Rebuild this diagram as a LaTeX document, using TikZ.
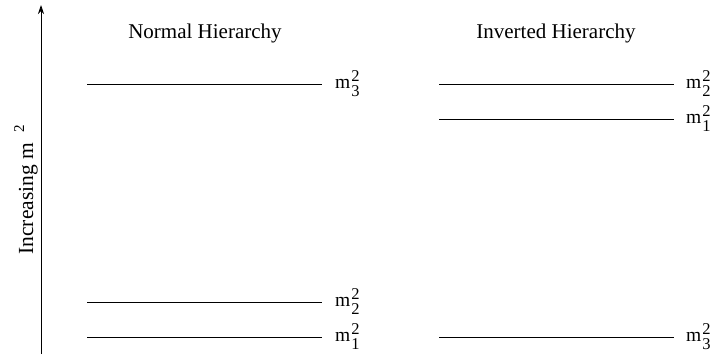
\documentclass[tikz,border=0pt]{standalone}
\usepackage{fontspec}
\setmainfont{Liberation Serif}
\usetikzlibrary{arrows.meta}
\newcommand{\scr}[1]{{\fontsize{16.5}{17}\selectfont #1}}
\newcommand{\mlab}[1]{m\hspace{1pt}\makebox[0pt][l]{\raisebox{7.5pt}{\scr{2}}}\raisebox{-8pt}{\scr{#1}}}
\tikzset{
  level/.style={line width=0.8pt},
  mass/.style={anchor=base west, inner sep=0pt, font=\fontsize{19.5}{20}\selectfont},
  title/.style={inner sep=0pt, font=\fontsize{21}{22}\selectfont},
}
\begin{document}
\begin{tikzpicture}[x=1pt,y=-1pt]
\useasboundingbox (0,0) rectangle (715,354);
% axis
\coordinate (ab) at (41,354);
\coordinate (at) at (41,5);
\draw[line width=0.8pt, -{Stealth[length=9pt,width=6pt,inset=3pt]}] (ab) -- (at);
\node[title, rotate=90, font=\fontsize{21.5}{22}\selectfont] (ylab) at (26,190) {Increasing m\hspace{10pt}\raisebox{9pt}{\fontsize{15}{15}\selectfont 2}};
% titles
\node[title] (tn) at (205,33) {Normal Hierarchy};
\node[title] (ti) at (556,33) {Inverted Hierarchy};
% normal hierarchy
\coordinate (n3a) at (87,84);  \coordinate (n3b) at (322,84);
\coordinate (n2a) at (87,302); \coordinate (n2b) at (322,302);
\coordinate (n1a) at (87,337); \coordinate (n1b) at (322,337);
\draw[level] (n3a) -- (n3b);
\draw[level] (n2a) -- (n2b);
\draw[level] (n1a) -- (n1b);
\node[mass] (ln3) at (335,88.5) {\mlab{3}};
\node[mass] (ln2) at (335,306.5) {\mlab{2}};
\node[mass] (ln1) at (335,341.5) {\mlab{1}};
% inverted hierarchy
\coordinate (i2a) at (439,84);  \coordinate (i2b) at (674,84);
\coordinate (i1a) at (439,119); \coordinate (i1b) at (674,119);
\coordinate (i3a) at (439,337); \coordinate (i3b) at (674,337);
\draw[level] (i2a) -- (i2b);
\draw[level] (i1a) -- (i1b);
\draw[level] (i3a) -- (i3b);
\node[mass] (li2) at (686,88.5) {\mlab{2}};
\node[mass] (li1) at (686,123.5) {\mlab{1}};
\node[mass] (li3) at (686,341.5) {\mlab{3}};
\end{tikzpicture}
\end{document}
